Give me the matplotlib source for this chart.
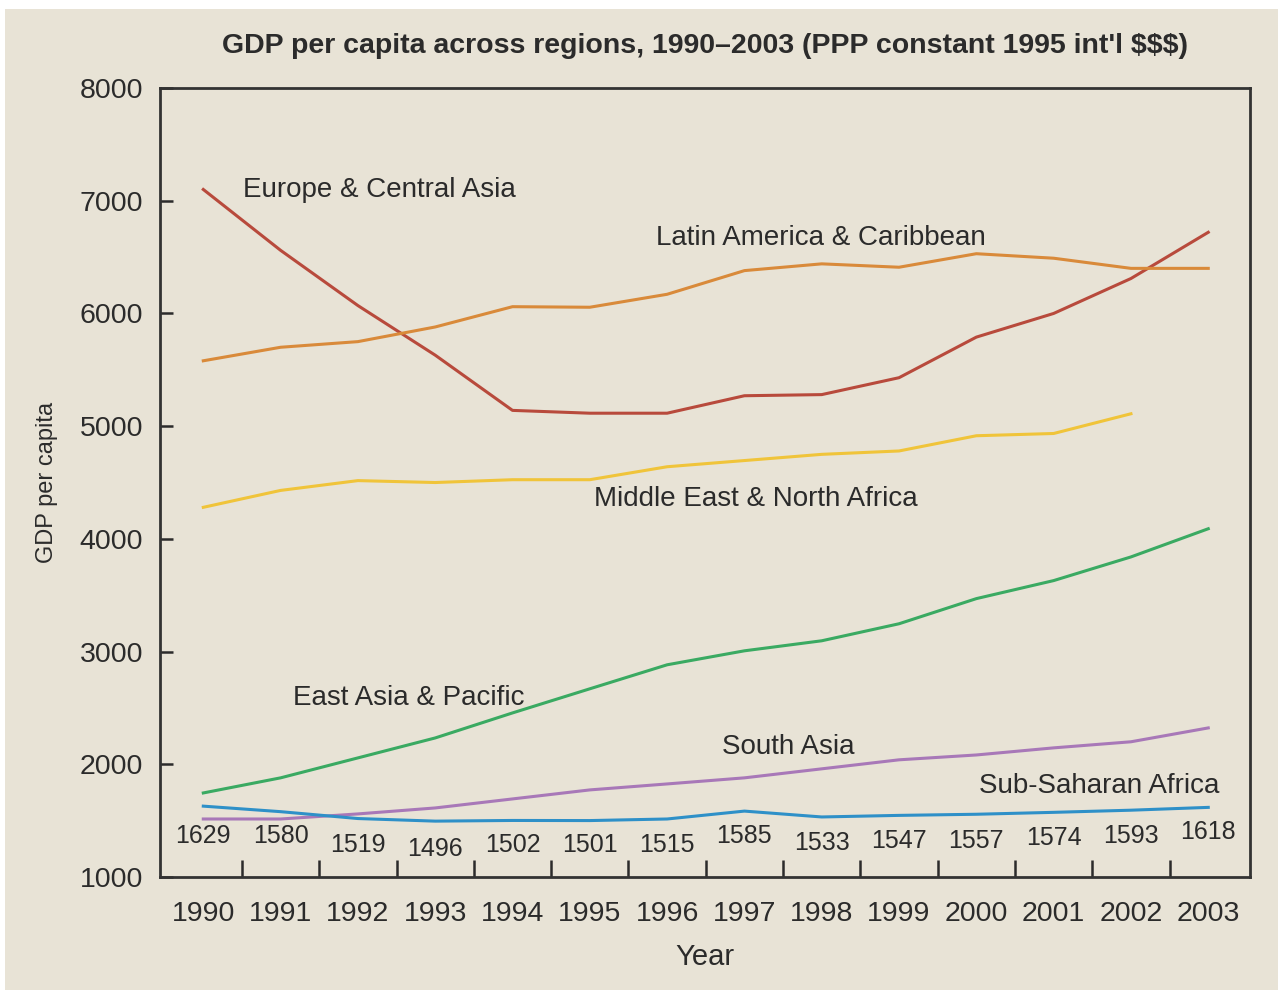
import matplotlib.pyplot as plt
from matplotlib.patches import Rectangle

plt.rcParams['font.family'] = ['Liberation Sans', 'DejaVu Sans']

years = list(range(1990, 2004))
europe_central_asia = [7100, 6560, 6070, 5630, 5140, 5115, 5115, 5270, 5280, 5430, 5790, 6000, 6310, 6720]
latin_america = [5580, 5700, 5750, 5880, 6060, 6055, 6170, 6380, 6440, 6410, 6530, 6490, 6400, 6400]
middle_east = [4280, 4430, 4517, 4500, 4525, 4525, 4640, 4695, 4750, 4780, 4915, 4935, 5110]
east_asia = [1746, 1880, 2057, 2234, 2456, 2670, 2883, 3007, 3096, 3247, 3470, 3630, 3840, 4090]
south_asia = [1515, 1515, 1560, 1613, 1693, 1773, 1826, 1880, 1960, 2040, 2083, 2146, 2200, 2323]
sub_saharan = [1629, 1580, 1519, 1496, 1502, 1501, 1515, 1585, 1533, 1547, 1557, 1574, 1593, 1618]
ssa_label_y = [1365, 1365, 1280, 1250, 1280, 1280, 1280, 1365, 1300, 1320, 1320, 1345, 1365, 1400]

bg = '#e8e3d6'
ink = '#2b2b2b'

fig = plt.figure(figsize=(12.81, 9.9), dpi=100, facecolor='white')
fig.patches.append(Rectangle((5 / 1281, 0), 1 - 8 / 1281, 1 - 9 / 990,
                             transform=fig.transFigure, facecolor=bg,
                             edgecolor='none', zorder=-1))
ax = fig.add_axes([0.1249, 0.1141, 0.8509, 0.797])
ax.set_facecolor(bg)

ax.plot(years, europe_central_asia, color='#b84a3c', lw=2.2)
ax.plot(years, latin_america, color='#d98a3a', lw=2.2)
ax.plot(years[:len(middle_east)], middle_east, color='#f0c43a', lw=2.2)
ax.plot(years, east_asia, color='#3aaa62', lw=2.2)
ax.plot(years, south_asia, color='#a878b8', lw=2.2)
ax.plot(years, sub_saharan, color='#2e90c8', lw=2.2)

for x, v, ly in zip(years, sub_saharan, ssa_label_y):
    ax.text(x, ly, str(v), ha='center', va='center', fontsize=18, color=ink)

fs = 20
ax.text(1990.52, 7092, 'Europe & Central Asia', fontsize=fs, color=ink, va='center')
ax.text(1995.86, 6666, 'Latin America & Caribbean', fontsize=fs, color=ink, va='center')
ax.text(1995.05, 4357, 'Middle East & North Africa', fontsize=fs, color=ink, va='center')
ax.text(1991.16, 2590, 'East Asia & Pacific', fontsize=fs, color=ink, va='center')
ax.text(1996.71, 2155, 'South Asia', fontsize=fs, color=ink, va='center')
ax.text(2000.03, 1808, 'Sub-Saharan Africa', fontsize=fs, color=ink, va='center')

ax.set_xlim(1989.44, 2003.54)
ax.set_ylim(1000, 8000)
ax.set_xticks(years)
ax.set_xticks([y + 0.5 for y in years[:-1]], minor=True)
ax.set_yticks(range(1000, 8001, 1000))
ax.tick_params(axis='x', which='major', length=0, pad=17, labelsize=20.5, colors=ink)
ax.tick_params(axis='x', which='minor', direction='in', length=12, width=1.8, color=ink)
ax.tick_params(axis='y', which='major', direction='in', length=9, width=1.8,
               pad=12, labelsize=20.5, colors=ink)

for s in ax.spines.values():
    s.set_color('#333333')
    s.set_linewidth(2)

ax.set_xlabel('Year', fontsize=21, color=ink, labelpad=12)
ax.set_ylabel('GDP per capita', fontsize=17, color=ink, labelpad=16)
fig.text(0.5503, 0.9535, "GDP per capita across regions, 1990\u20132003 (PPP constant 1995 int'l $$$)",
         ha='center', va='center', fontsize=20.5, fontweight='bold', color=ink)

fig.savefig('out.png', dpi=100, facecolor=fig.get_facecolor())
